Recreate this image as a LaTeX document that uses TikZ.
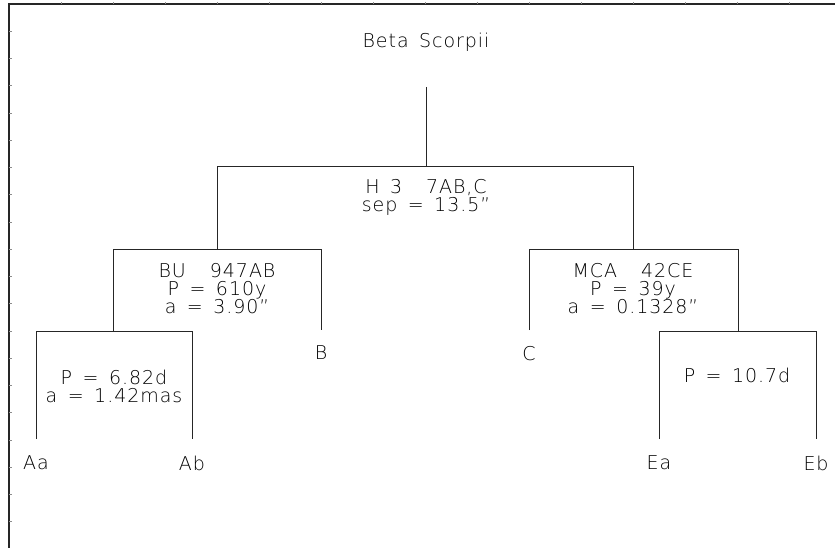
\documentclass[tikz,border=0pt]{standalone}
\usepackage{fontspec}
\setmainfont[LetterSpace=5,WordSpace=1.5]{DejaVu Sans ExtraLight}
\newcommand{\gapx}{\hbox to 24pt{\hfil}}
\begin{document}
\begin{tikzpicture}[x=1pt,y=-1pt,
  tree/.style={line width=1pt,draw=black!85},
  frame/.style={line width=1.3pt,draw=black!85},
  tick/.style={line width=0.8pt,draw=black!45},
  lbl/.style={inner sep=0pt,text depth=0pt,font=\fontsize{19}{18}\selectfont},
  info/.style={inner sep=0pt,align=center,font=\fontsize{19}{18}\selectfont}]
\useasboundingbox (0,0) rectangle (835,548);
% frame
\draw[frame] (9,548) -- (9,4) -- (835,4);
\foreach \k in {1,...,19} \draw[tick] (9,{4+27.25*\k}) -- (11.5,{4+27.25*\k});
\foreach \k in {1,...,15} \draw[tick] ({9+52*\k},4) -- ({9+52*\k},2.5);
% title
\node[lbl] (title) at (426,40) {Beta Scorpii};
% junction coordinates
\coordinate (r) at (426,87);
\coordinate (n1) at (426,167);
\coordinate (n1l) at (217,167);
\coordinate (n1r) at (633,167);
\coordinate (nAB) at (217,249);
\coordinate (nABl) at (113,249);
\coordinate (nABr) at (321,249);
\coordinate (nCE) at (633,249);
\coordinate (nCEl) at (529,249);
\coordinate (nCEr) at (738,249);
\coordinate (nA) at (113,331);
\coordinate (nAl) at (36,331);
\coordinate (nAr) at (192,331);
\coordinate (nE) at (738,331);
\coordinate (nEl) at (659,331);
\coordinate (nEr) at (816,331);
\coordinate (eB) at (321,330);
\coordinate (eC) at (529,330);
\coordinate (eAa) at (36,439);
\coordinate (eAb) at (192,439);
\coordinate (eEa) at (659,439);
\coordinate (eEb) at (816,439);
% info texts
\node[info] (i1) at (426,197) {H 3\gapx 7AB,C\\sep = 13.5"};
\node[info] (iAB) at (217,289) {BU\gapx 947AB\\P = 610y\\a = 3.90"};
\node[info] (iCE) at (633,289) {MCA\gapx 42CE\\P = 39y\\a = 0.1328"};
\node[info] (iA) at (114,386) {P = 6.82d\\a = 1.42mas};
\node[info] (iE) at (737,375) {P = 10.7d};
% leaf labels
\node[lbl] (B) at (321,353) {B};
\node[lbl] (C) at (529,353) {C};
\node[lbl] (Aa) at (36,463) {Aa};
\node[lbl] (Ab) at (192,463) {Ab};
\node[lbl] (Ea) at (659,463) {Ea};
\node[lbl] (Eb) at (816,463) {Eb};
% tree lines
\draw[tree] (r) -- (n1);
\draw[tree] (nAB) -- (n1l) -- (n1r) -- (nCE);
\draw[tree] (nA) -- (nABl) -- (nABr) -- (eB);
\draw[tree] (nABl) -- (nAB);
\draw[tree] (eC) -- (nCEl) -- (nCEr) -- (nE);
\draw[tree] (eAa) -- (nAl) -- (nAr) -- (eAb);
\draw[tree] (eEa) -- (nEl) -- (nEr) -- (eEb);
\end{tikzpicture}
\end{document}
